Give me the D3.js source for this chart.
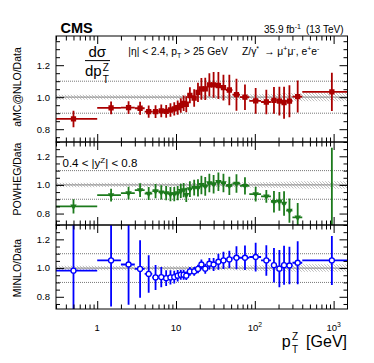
<!DOCTYPE html>
<html><head><meta charset="utf-8">
<script src="https://cdn.jsdelivr.net/npm/d3@7"></script>
<style>
html,body{margin:0;padding:0;background:#fff;}
svg{display:block;font-family:"Liberation Sans",Arial,Helvetica,sans-serif;}
</style></head><body>
<svg id="c" width="374" height="363"></svg>
<script>
// ---- data ----
const ptCenters = [0.5,1.5,2.5,3.5,4.5,5.5,6.5,7.5,8.5,9.5,10.5,11.5,12.5,13.5,15,17,19,21,23.5,26.5,30,34.5,40,47.5,58.5,75,102.5,140,175,205,235,275,350,950];
const binEdges = [0,1,2,3,4,5,6,7,8,9,10,11,12,13,14,16,18,20,22,25,28,32,37,43,52,65,85,120,160,190,220,250,300,400,2500];
const amcRatio = [0.864,0.933,0.935,0.931,0.910,0.910,0.914,0.912,0.920,0.927,0.935,0.948,0.962,0.956,1.012,0.995,1.030,1.052,1.052,1.077,1.077,1.073,1.060,1.045,1.016,1.000,0.977,0.970,0.980,0.975,0.966,0.975,1.004,1.033];
const amcErr   = [0.052,0.040,0.040,0.040,0.038,0.040,0.040,0.040,0.042,0.042,0.045,0.045,0.048,0.050,0.050,0.055,0.060,0.068,0.070,0.073,0.080,0.085,0.080,0.095,0.100,0.080,0.080,0.076,0.083,0.090,0.100,0.100,0.100,0.120];
const powhegRatio = [0.850,0.929,0.943,0.964,0.940,0.957,0.948,0.943,0.936,0.936,0.943,0.959,0.964,0.930,0.971,0.982,0.980,1.000,0.990,1.013,1.005,1.022,1.013,0.994,1.010,0.994,0.936,0.920,0.882,0.885,0.870,0.820,0.773,0.600];
const powhegErr   = [0.050,0.045,0.045,0.048,0.045,0.050,0.050,0.050,0.050,0.050,0.050,0.050,0.050,0.050,0.055,0.055,0.060,0.065,0.065,0.065,0.065,0.065,0.065,0.064,0.064,0.060,0.052,0.045,0.075,0.065,0.085,0.085,0.100,0.660];
const minloRatio = [0.982,1.053,1.025,0.994,0.959,0.935,0.937,0.930,0.935,0.937,0.947,0.954,0.954,0.947,0.977,0.977,0.994,1.025,0.996,1.030,1.025,1.044,1.053,1.060,1.072,1.072,1.077,1.053,1.020,0.996,1.020,1.018,1.037,1.053];
const minloErr   = [0.350,0.320,0.280,0.200,0.130,0.087,0.070,0.055,0.050,0.045,0.040,0.035,0.035,0.030,0.030,0.030,0.030,0.035,0.035,0.040,0.045,0.055,0.060,0.060,0.080,0.085,0.100,0.106,0.120,0.130,0.136,0.130,0.150,0.170];
const dataUnc = [0.016,0.015,0.015,0.015,0.015,0.015,0.015,0.015,0.015,0.015,0.015,0.015,0.015,0.015,0.015,0.015,0.015,0.015,0.015,0.015,0.015,0.015,0.016,0.016,0.017,0.018,0.019,0.020,0.021,0.022,0.023,0.024,0.025,0.026];
const yMajorTicks = [0.8,1.0,1.2];
const yTickLabels = ["0.8","1.0","1.2"];
const xMajorTicks = [1,10,100,1000];
const xTickBase = ["1","10","10","10"];
const xTickExp  = ["","","2","3"];
const panelTitles = ["aMC@NLO/Data","POWHEG/Data","MINLO/Data"];

// ---- layout ----
const svg = d3.select("#c");
const X0 = 56, X1 = 347.5;
const x = d3.scaleLog().domain([0.3,1500]).range([X0,X1]);
const panels = [
  {top:36, bot:142, dom:[0.72,1.3825], vals:amcRatio, errs:amcErr, color:"#aa0000", marker:"square", title:panelTitles[0], ty:87},
  {top:142,bot:225, dom:[0.72,1.30],  vals:powhegRatio, errs:powhegErr, color:"#1c7a1c", marker:"tri", title:panelTitles[1], ty:179},
  {top:225,bot:309, dom:[0.715,1.30], vals:minloRatio, errs:minloErr, color:"#0000ff", marker:"circle", title:panelTitles[2], ty:268}
];

const defs = svg.append("defs");
const pat = defs.append("pattern").attr("id","hatch").attr("patternUnits","userSpaceOnUse")
  .attr("width",3).attr("height",3);
pat.append("path").attr("d","M-1,-1 L4,4 M-1,2 L1,4 M2,-1 L4,1").attr("stroke","#b0b0b0").attr("stroke-width",0.8);

const xc = v => x(Math.min(Math.max(v,0.3),1500));
const xMinor = [];
[0.1,1,10,100,1000].forEach(d=>{for(let k=2;k<=9;k++){const v=d*k; if(v>=0.3&&v<=1500) xMinor.push(v);}});

panels.forEach((p,pi)=>{
  const y = d3.scaleLinear().domain(p.dom).range([p.bot,p.top]);
  const cid = "clip"+pi;
  defs.append("clipPath").attr("id",cid).append("rect")
    .attr("x",X0).attr("y",p.top).attr("width",X1-X0).attr("height",p.bot-p.top);
  const g = svg.append("g");
  const gc = g.append("g").attr("clip-path",`url(#${cid})`);

  // data uncertainty band
  const bandPts = [];
  dataUnc.forEach((u,i)=>{ bandPts.push({e:binEdges[i],u}); bandPts.push({e:binEdges[i+1],u}); });
  gc.append("path").datum(bandPts)
    .attr("d", d3.area().x(d=>xc(d.e)).y0(d=>y(1-d.u)).y1(d=>y(1+d.u)))
    .attr("fill","url(#hatch)");
  // reference lines
  gc.append("line").attr("x1",X0).attr("x2",X1).attr("y1",y(1)).attr("y2",y(1))
    .attr("stroke","#9a9a9a").attr("stroke-width",1.2);
  [0.9,1.1].forEach(v=>{
    gc.append("line").attr("x1",X0).attr("x2",X1).attr("y1",y(v)).attr("y2",y(v))
      .attr("stroke","#777").attr("stroke-width",1).attr("stroke-dasharray","1,1");
  });

  // error bars
  const pts = ptCenters.map((c,i)=>({c, v:p.vals[i], e:p.errs[i], lo:binEdges[i], hi:binEdges[i+1]}));
  gc.selectAll(".ve").data(pts).join("line")
    .attr("x1",d=>x(d.c)).attr("x2",d=>x(d.c))
    .attr("y1",d=>y(d.v-d.e)).attr("y2",d=>y(d.v+d.e))
    .attr("stroke",p.color).attr("stroke-width",1.8);
  gc.selectAll(".he").data(pts).join("line")
    .attr("x1",d=>xc(d.lo)).attr("x2",d=>xc(d.hi))
    .attr("y1",d=>y(d.v)).attr("y2",d=>y(d.v))
    .attr("stroke",p.color).attr("stroke-width",1.8);
  // markers
  if(p.marker==="square"){
    gc.selectAll(".m").data(pts).join("path")
      .attr("transform",d=>`translate(${x(d.c)},${y(d.v)})`)
      .attr("d",d3.symbol(d3.symbolSquare,28)).attr("fill",p.color);
  } else if(p.marker==="tri"){
    gc.selectAll(".m").data(pts).join("path")
      .attr("transform",d=>`translate(${x(d.c)},${y(d.v)}) rotate(180)`)
      .attr("d",d3.symbol(d3.symbolTriangle,18)).attr("fill",p.color);
  } else {
    gc.selectAll(".m").data(pts).join("circle")
      .attr("cx",d=>x(d.c)).attr("cy",d=>y(d.v)).attr("r",2.5)
      .attr("fill","#fff").attr("stroke",p.color).attr("stroke-width",1.3);
  }

  // axes (ticks inside frame)
  const yMinor = d3.range(0.55,1.5,0.05).map(v=>+v.toFixed(2))
    .filter(v=>v>=p.dom[0]&&v<=p.dom[1]&&!yMajorTicks.some(m=>Math.abs(m-v)<1e-6));
  const axes = [
    [d3.axisLeft(y).tickValues(yMajorTicks).tickSize(-8), `translate(${X0},0)`],
    [d3.axisLeft(y).tickValues(yMinor).tickSize(-4), `translate(${X0},0)`],
    [d3.axisRight(y).tickValues(yMajorTicks).tickSize(-8), `translate(${X1},0)`],
    [d3.axisRight(y).tickValues(yMinor).tickSize(-4), `translate(${X1},0)`],
    [d3.axisBottom(x).tickValues(xMajorTicks).tickSize(-8), `translate(0,${p.bot})`],
    [d3.axisBottom(x).tickValues(xMinor).tickSize(-4.5), `translate(0,${p.bot})`],
    [d3.axisTop(x).tickValues(xMajorTicks).tickSize(-8), `translate(0,${p.top})`],
    [d3.axisTop(x).tickValues(xMinor).tickSize(-4.5), `translate(0,${p.top})`]
  ];
  axes.forEach(([ax,tr])=>{
    const a = g.append("g").attr("transform",tr).call(ax.tickFormat(""));
    a.select(".domain").remove();
    a.selectAll("line").attr("stroke","#000").attr("stroke-width",1);
  });
  // y tick labels
  yMajorTicks.forEach((v,i)=>{
    g.append("text").attr("x",50).attr("y",y(v)+3.4).attr("text-anchor","end")
      .attr("font-size",9.5).text(yTickLabels[i]);
  });
  // frame
  g.append("rect").attr("x",X0).attr("y",p.top).attr("width",X1-X0).attr("height",p.bot-p.top)
    .attr("fill","none").attr("stroke","#000").attr("stroke-width",1);
  // y title
  g.append("text").attr("transform",`translate(21,${p.ty}) rotate(-90)`).attr("text-anchor","middle")
    .attr("font-size",10.5).text(p.title);

  // x tick labels on bottom panel
  if(pi===2){
    xMajorTicks.forEach((v,i)=>{
      const t = g.append("text").attr("x",x(v)).attr("y",331).attr("text-anchor","middle").attr("font-size",9.5);
      t.append("tspan").text(xTickBase[i]);
      if(xTickExp[i]) t.append("tspan").attr("dy",-4).attr("font-size",6.8).text(xTickExp[i]);
    });
  }
});

// ---- texts ----
svg.append("text").attr("x",60.5).attr("y",33.3).attr("font-size",14.5).attr("font-weight","bold").text("CMS");
const lumi = svg.append("text").attr("x",343.5).attr("y",33).attr("text-anchor","end").attr("font-size",10);
lumi.append("tspan").text("35.9 fb");
lumi.append("tspan").attr("dy",-4).attr("font-size",7).text("-1");
lumi.append("tspan").attr("dy",4).text("\u2002(13 TeV)");

// dσ/dpT^Z
svg.append("text").attr("x",97.2).attr("y",56.7).attr("text-anchor","middle").attr("font-size",15).text("d\u03c3");
svg.append("line").attr("x1",85).attr("x2",110).attr("y1",60.6).attr("y2",60.6).attr("stroke","#000").attr("stroke-width",1);
svg.append("text").attr("x",85).attr("y",75.5).attr("font-size",15).text("dp");
svg.append("text").attr("x",102.8).attr("y",71).attr("font-size",10).text("Z");
svg.append("text").attr("x",102.8).attr("y",83).attr("font-size",10).text("T");

const cut = svg.append("text").attr("x",128.3).attr("y",55).attr("font-size",10.3);
cut.append("tspan").text("|\u03b7| < 2.4, p");
cut.append("tspan").attr("dy",2.8).attr("font-size",7).text("T");
cut.append("tspan").attr("dy",-2.8).text(" > 25 GeV");

const proc = svg.append("text").attr("x",242).attr("y",55).attr("font-size",10.3);
proc.append("tspan").text("Z/\u03b3");
proc.append("tspan").attr("dy",-4).attr("font-size",7).text("*");
proc.append("tspan").attr("dy",4).text("\u2002\u2192 \u03bc");
proc.append("tspan").attr("dy",-4).attr("font-size",7).text("+");
proc.append("tspan").attr("dy",4).text("\u03bc");
proc.append("tspan").attr("dy",-4).attr("font-size",7).text("-");
proc.append("tspan").attr("dy",4).text(", e");
proc.append("tspan").attr("dy",-4).attr("font-size",7).text("+");
proc.append("tspan").attr("dy",4).text("e");
proc.append("tspan").attr("dy",-4).attr("font-size",7).text("-");

const rap = svg.append("text").attr("x",62.5).attr("y",167).attr("font-size",11.5);
rap.append("tspan").text("0.4 < |y");
rap.append("tspan").attr("dy",-4.5).attr("font-size",8).text("Z");
rap.append("tspan").attr("dy",4.5).text("| < 0.8");

// x-axis title
svg.append("text").attr("x",281.7).attr("y",346.5).attr("font-size",16).text("p");
svg.append("text").attr("x",292).attr("y",339.5).attr("font-size",10).text("Z");
svg.append("text").attr("x",292).attr("y",352.5).attr("font-size",10).text("T");
svg.append("text").attr("x",347).attr("y",346.5).attr("text-anchor","end").attr("font-size",16).text("[GeV]");
</script>
</body></html>
